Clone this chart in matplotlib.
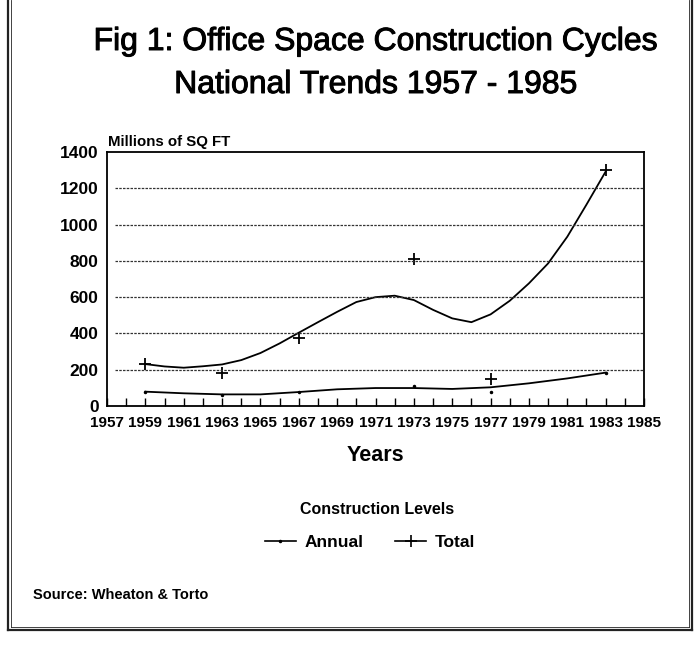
import matplotlib
matplotlib.use("Agg")
import matplotlib.pyplot as plt
import matplotlib.patheffects as pe
from matplotlib.lines import Line2D

# data
curve_years = list(range(1959, 1984))
total_curve = [231, 218, 211, 219, 229, 253, 292, 345, 404, 462, 519, 573, 600,
               608, 584, 530, 483, 462, 505, 580, 676, 786, 933, 1110, 1292]
annual_curve_years = list(range(1959, 1984, 2))
annual_curve = [79, 70, 64, 64, 77, 92, 99, 99, 94, 103, 125, 152, 184]

point_years = [1959, 1963, 1967, 1973, 1977, 1983]
total_points = [231, 180, 373, 810, 150, 1300]
annual_points = [79, 61, 75, 112, 75, 182]

year_ticks = list(range(1957, 1986))
year_labels = [str(y) if y % 2 == 1 else "" for y in year_ticks]
y_ticks = [0, 200, 400, 600, 800, 1000, 1200, 1400]

W, H = 697, 651
plt.rcParams['font.family'] = ['Liberation Sans', 'DejaVu Sans']

fig = plt.figure(figsize=(W / 100, H / 100), dpi=100)


def px(x, y):
    return x / W, 1 - y / H


ax = fig.add_axes([107 / W, 1 - 406 / H, (644 - 107) / W, (406 - 152) / H])

ax.plot(curve_years, total_curve, color='black', lw=1.3)
ax.plot(annual_curve_years, annual_curve, color='black', lw=1.3)
ax.plot(point_years, total_points, ls='none', marker='+', ms=8, mew=1.3, color='black')
ax.plot(point_years, annual_points, ls='none', marker='.', ms=3, color='black')

for v in y_ticks[1:-1]:
    ax.axhline(v, xmin=0.015, xmax=1, color='#333333', lw=0.9, ls=(0, (2, 1)))

ax.set_xlim(1957, 1985)
ax.set_ylim(0, 1400)
ax.set_xticks(year_ticks)
ax.set_xticklabels(year_labels)
ax.set_yticks(y_ticks)
ax.tick_params(axis='x', direction='in', length=6, width=1, pad=7,
               labelsize=11)
ax.tick_params(axis='y', length=0, pad=6, labelsize=12.5)
for lab in ax.get_xticklabels() + ax.get_yticklabels():
    lab.set_fontweight('bold')
for s in ax.spines.values():
    s.set_linewidth(1.3)

ax.set_xlabel('Years', fontsize=15.5, fontweight='bold', labelpad=11)

# titles and labels
thick = [pe.withStroke(linewidth=0.7, foreground='black')]
fig.text(*px(376, 42), 'Fig 1: Office Space Construction Cycles', ha='center', va='center',
         fontsize=23, path_effects=thick)
fig.text(*px(376, 85), 'National Trends 1957 - 1985', ha='center', va='center',
         fontsize=23, path_effects=thick)
fig.text(*px(108, 142), 'Millions of SQ FT', ha='left', va='center',
         fontsize=10.8, fontweight='bold')

# legend
fig.text(*px(377, 509), 'Construction Levels', ha='center', va='center',
         fontsize=11.5, fontweight='bold')
handles = [Line2D([], [], color='black', lw=1.2, marker='.', ms=3),
           Line2D([], [], color='black', lw=1.2, marker='+', ms=8, mew=1.2)]
fig.legend(handles, ['Annual', 'Total'], loc='center', bbox_to_anchor=px(370, 542),
           ncol=2, frameon=False, handlelength=1.8, handletextpad=0.5,
           columnspacing=1.8, prop={'weight': 'bold', 'size': 12.5})

fig.text(*px(33, 595), 'Source: Wheaton & Torto', ha='left', va='center',
         fontsize=10.5, fontweight='bold')

# page frame
for x0, x1, y0, y1, w in [(8, 8, 0, 630, 1.6), (692, 692, 0, 630, 1.6),
                          (8, 692, 630, 630, 1.6), (11, 11, 0, 627, 0.6),
                          (689, 689, 0, 627, 0.6), (11, 689, 627, 627, 0.6)]:
    fig.add_artist(Line2D([x0 / W, x1 / W], [1 - y0 / H, 1 - y1 / H], color='#222222', lw=w))

fig.savefig('out.png', dpi=100)
